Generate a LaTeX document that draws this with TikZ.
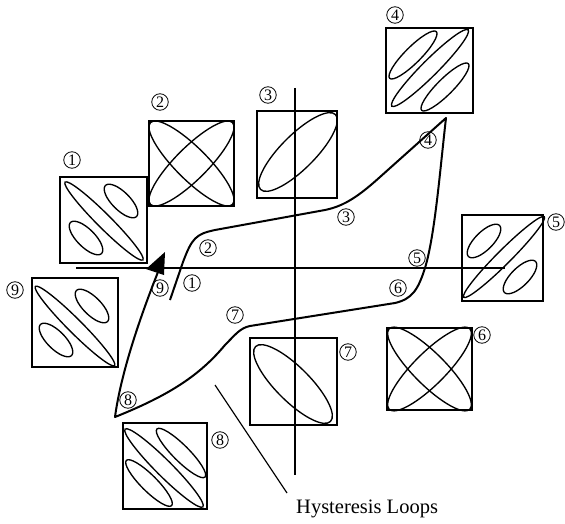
\documentclass[tikz,border=0pt]{standalone}
\usepackage{fontspec}
\setmainfont{Liberation Serif}
\begin{document}
\begin{tikzpicture}[x=1pt,y=-1pt,
  boxln/.style={line width=1.3pt},
  lob/.style={line width=1.35pt},
  loopln/.style={line width=2pt, line join=round},
  axis/.style={line width=1.3pt},
  cnum/.style={circle, draw, line width=0.8pt, inner sep=0pt, minimum size=16.5pt, font=\fontsize{16}{16}\selectfont}]
\useasboundingbox (0,0) rectangle (565,524);
\newcommand{\lobe}[5]{\draw[lob, rotate around={#3:(#1,#2)}] (#1,#2) ellipse[x radius=#4, y radius=#5];}
% axes
\coordinate (hl) at (76,268); \coordinate (hr) at (505,268);
\coordinate (vt) at (295,88);  \coordinate (vb) at (295,475);
\draw[axis] (hl) -- (hr);
\draw[axis] (vt) -- (vb);
% boxes
\draw[boxln] (60,177) rectangle (147,263);
\draw[boxln] (149,121) rectangle (234,206);
\draw[boxln] (257,111) rectangle (337,198);
\draw[boxln] (386,28) rectangle (473,113);
\draw[boxln] (462,215) rectangle (543,301);
\draw[boxln] (32,278) rectangle (118,367);
\draw[boxln] (387,328) rectangle (472,410);
\draw[boxln] (250,338) rectangle (337,425);
\draw[boxln] (123,423) rectangle (207,509);
% box 1
\lobe{104}{221}{-45}{55}{7}
\lobe{121}{201}{-45}{22}{9}
\lobe{86}{238}{-45}{22}{9}
% box 9
\lobe{75}{326}{-45}{56}{7}
\lobe{92}{306}{-45}{22}{9}
\lobe{56}{340}{-45}{22}{9}
% box 5
\lobe{504}{257}{45}{57}{7}
\lobe{484}{241}{45}{22}{9}
\lobe{520}{277}{45}{22}{9}
% box 4
\lobe{413}{55}{45}{33}{8}
\lobe{430}{68}{45}{54}{8}
\lobe{445}{87}{45}{33}{8}
% box 8
\lobe{181}{453}{-45}{34}{8}
\lobe{164}{468}{-45}{55}{8}
\lobe{149}{483}{-45}{32}{8}
% box 2
\lobe{191.5}{163.5}{45}{58}{16}
\lobe{191.5}{163.5}{-45}{58}{16}
% box 6
\lobe{429.5}{369}{45}{57}{16}
\lobe{429.5}{369}{-45}{57}{16}
% box 3
\lobe{298}{152}{45}{53}{17}
% box 7
\lobe{293}{384}{-45}{53}{17}
% hysteresis loop
\coordinate (s1) at (170,300);
\coordinate (s4) at (446,118);
\coordinate (s8) at (115,417);
\coordinate (s9) at (158,272);
\draw[loopln] (s1) -- (183,262) .. controls (192,238) and (196,234) .. (215,230)
  -- (325,210) .. controls (345,206) and (360,195) .. (380,177) -- (s4)
  .. controls (440,170) and (435,235) .. (425,268)
  .. controls (418,290) and (412,299) .. (395,303) -- (250,326)
  .. controls (240,328) and (235,335) .. (225,345)
  .. controls (200,375) and (170,395) .. (s8)
  .. controls (120,380) and (135,330) .. (s9);
\fill (165,252) -- (146,269) -- (164,275) -- cycle;
% leader
\coordinate (la) at (215,385);
\node[anchor=base west, font=\fontsize{20.5}{20.5}\selectfont, inner sep=0pt] (txt) at (296,513) {Hysteresis Loops};
\draw[line width=1.2pt] (la) -- (287,493);
% box labels
\node[cnum] (b1) at (72,160) {1};
\node[cnum] (b2) at (160,102) {2};
\node[cnum] (b3) at (268,95) {3};
\node[cnum] (b4) at (395,15) {4};
\node[cnum] (b5) at (556,222) {5};
\node[cnum] (b9) at (15,290) {9};
\node[cnum] (b6) at (482,335) {6};
\node[cnum] (b7) at (348,352) {7};
\node[cnum] (b8) at (220,440) {8};
% curve labels
\node[cnum] (c1) at (192,283) {1};
\node[cnum] (c2) at (208,248) {2};
\node[cnum] (c3) at (346,217) {3};
\node[cnum] (c4) at (428,140) {4};
\node[cnum] (c5) at (417,258) {5};
\node[cnum] (c6) at (398,288) {6};
\node[cnum] (c7) at (235,315) {7};
\node[cnum] (c8) at (128,400) {8};
\node[cnum] (c9) at (160,288) {9};
\end{tikzpicture}
\end{document}
